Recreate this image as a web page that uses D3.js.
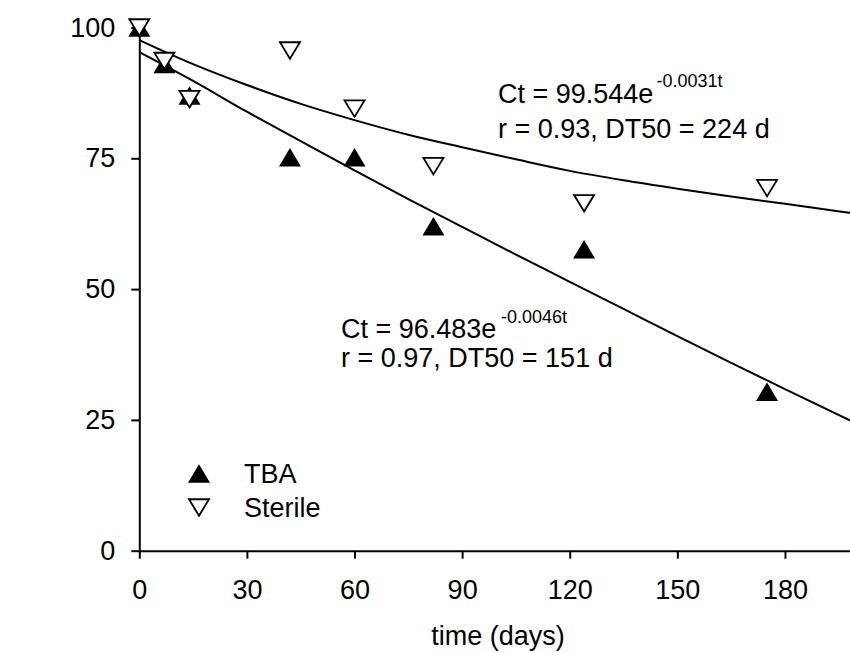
<!DOCTYPE html>
<html>
<head>
<meta charset="utf-8">
<script src="https://cdn.jsdelivr.net/npm/d3@7"></script>
<style>
  html, body { margin: 0; padding: 0; background: #fff; }
  svg { display: block; }
  text { font-family: "Liberation Sans", Arial, sans-serif; fill: #000; }
</style>
</head>
<body>
<svg id="chart" width="850" height="653"></svg>
<script>
// Sampling days and measured residues (%)
const days = [0, 7, 14, 42, 60, 82, 124, 175];
const tbaValues = [100, 93.0, 87.0, 75.2, 75.2, 62.0, 57.6, 30.4];
const sterileValues = [100, 93.6, 86.3, 95.6, 84.5, 73.5, 66.4, 69.3];

// Fitted decay curves as plotted
const fitDays = [0, 15, 30, 45, 60, 75, 90, 105, 120, 135, 150, 165, 180, 200];
const tbaFit = [95.3, 89.8, 83.9, 78.3, 72.7, 67.2, 61.9, 56.6, 51.4, 46.2, 41.0, 35.9, 30.9, 24.3];
const sterileFit = [97.6, 93.0, 89.0, 85.4, 82.3, 79.5, 77.1, 74.8, 72.6, 70.8, 69.2, 67.7, 66.3, 64.4];

// Axis ticks
const xTicks = [0, 30, 60, 90, 120, 150, 180];
const yTicks = [0, 25, 50, 75, 100];

// Legend entries
const legendLabels = ["TBA", "Sterile"];

const svg = d3.select("#chart");
svg.append("rect").attr("width", 850).attr("height", 653).attr("fill", "#fff");

const x = d3.scaleLinear().domain([0, 200]).range([139.3, 856.7]);
const y = d3.scaleLinear().domain([0, 100]).range([550.7, 27.5]);

// Triangle symbol centred on its bounding box
function triangle(w, h, up) {
  return {
    draw(ctx) {
      const s = up ? 1 : -1;
      ctx.moveTo(0, -s * h / 2);
      ctx.lineTo(w / 2, s * h / 2);
      ctx.lineTo(-w / 2, s * h / 2);
      ctx.closePath();
    }
  };
}
const upTri = d3.symbol().type(triangle(22, 18.5, true))();
const downTri = d3.symbol().type(triangle(20, 16.5, false))();

// Axes
const xAxis = d3.axisBottom(x).tickValues(xTicks).tickSize(8).tickSizeOuter(0).tickPadding(21);
const yAxis = d3.axisLeft(y).tickValues(yTicks).tickSize(8).tickSizeOuter(0).tickPadding(16);

const gx = svg.append("g").attr("transform", `translate(0,${y(0)})`).call(xAxis);
const gy = svg.append("g").attr("transform", `translate(${x(0)},0)`).call(yAxis);
[gx, gy].forEach(g => {
  g.selectAll("path.domain").attr("stroke", "#000").attr("stroke-width", 2);
  g.selectAll(".tick line").attr("stroke", "#000").attr("stroke-width", 2);
  g.selectAll(".tick text")
    .attr("font-family", "'Liberation Sans', Arial, sans-serif")
    .attr("font-size", 27).attr("fill", "#000");
});

svg.append("text")
  .attr("x", (x(0) + x(200)) / 2).attr("y", 645)
  .attr("text-anchor", "middle").attr("font-size", 27)
  .text("time (days)");

// Fitted curves
const line = d3.line().x(d => x(d[0])).y(d => y(d[1])).curve(d3.curveMonotoneX);
[tbaFit, sterileFit].forEach(vals => {
  svg.append("path")
    .datum(fitDays.map((t, i) => [t, vals[i]]))
    .attr("d", line)
    .attr("fill", "none").attr("stroke", "#000").attr("stroke-width", 2);
});

// Observed points
svg.append("g").selectAll("path")
  .data(days.map((t, i) => [t, tbaValues[i]]))
  .join("path")
  .attr("d", upTri)
  .attr("transform", d => `translate(${x(d[0])},${y(d[1])})`)
  .attr("fill", "#000");

svg.append("g").selectAll("path")
  .data(days.map((t, i) => [t, sterileValues[i]]))
  .join("path")
  .attr("d", downTri)
  .attr("transform", d => `translate(${x(d[0])},${y(d[1])})`)
  .attr("fill", "#fff").attr("stroke", "#000").attr("stroke-width", 1.8);

// Equations
function equation(x0, y0, base, exp, expX, expY, stats, statsY) {
  const g = svg.append("g");
  g.append("text").attr("x", x0).attr("y", y0).attr("font-size", 27).text(base);
  g.append("text").attr("x", expX).attr("y", expY).attr("font-size", 18).text(exp);
  g.append("text").attr("x", x0).attr("y", statsY).attr("font-size", 27)
    .attr("xml:space", "preserve").style("white-space", "pre").text(stats);
}
equation(498, 103, "Ct = 99.544e", "-0.0031t", 656.5, 87, "r = 0.93, DT50 = 224 d", 138);
equation(341, 338, "Ct = 96.483e", "-0.0046t", 501, 323, "r = 0.97, DT50 = 151 d", 367);

// Legend
const legend = svg.append("g");
const legendSymbols = [upTri, downTri];
legendLabels.forEach((label, i) => {
  const cy = 473.5 + i * 34;
  legend.append("path").attr("d", legendSymbols[i])
    .attr("transform", `translate(199,${cy})`)
    .attr("fill", i === 0 ? "#000" : "#fff")
    .attr("stroke", i === 0 ? "none" : "#000").attr("stroke-width", 1.8);
  legend.append("text").attr("x", 244).attr("y", cy + 9.5)
    .attr("font-size", 27).text(label);
});
</script>
</body>
</html>
